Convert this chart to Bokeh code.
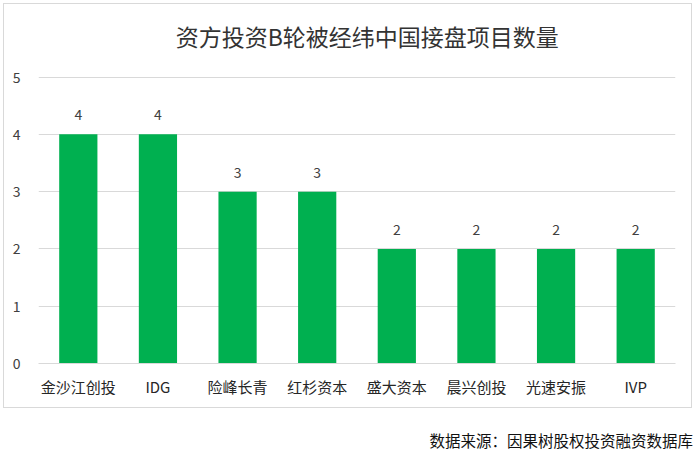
from bokeh.plotting import figure
from bokeh.layouts import column
from bokeh.models import ColumnDataSource, LabelSet, FixedTicker, Range1d
from bokeh.core.properties import value
from bokeh.embed import file_html
from bokeh.resources import INLINE

# data
investors = ["金沙江创投", "IDG", "险峰长青", "红杉资本", "盛大资本", "晨兴创投", "光速安振", "IVP"]
counts = [4, 4, 3, 3, 2, 2, 2, 2]
y_ticks = [0, 1, 2, 3, 4, 5]

title_text = "资方投资B轮被经纬中国接盘项目数量"
source_text = "数据来源：因果树股权投资融资数据库"

FONT = "Noto Sans CJK SC"
GREEN = "#00B050"


def text_strip(width, height, x, y, text, size, color):
    # a bare figure that only carries one line of text
    f = figure(width=width, height=height, x_range=(0, 1), y_range=(0, 1),
               output_backend="svg", toolbar_location=None, min_border=0,
               x_axis_location=None, y_axis_location=None)
    f.text(x=[x], y=[y], text=[text], text_align="left",
           text_baseline="middle", text_font=value(FONT),
           text_font_size=size, text_color=color)
    f.grid.visible = False
    f.outline_line_color = None
    return f


src = ColumnDataSource(data=dict(
    investor=investors,
    count=counts,
    label=[str(c) for c in counts],
))

head = text_strip(687, 60, 0.2154, 0.467, title_text, "23px", "#333333")

p = figure(x_range=investors, y_range=Range1d(0, 5.01), width=687, height=343,
           output_backend="svg", toolbar_location=None,
           min_border_left=34, min_border_right=16,
           min_border_top=12, min_border_bottom=44)

p.vbar(x="investor", top="count", width=0.48, source=src,
       color=GREEN, line_color=None)

p.add_layout(LabelSet(x="investor", y="count", text="label", source=src,
                      y_offset=14, text_align="center", text_baseline="bottom",
                      text_font=value(FONT), text_font_size="14px",
                      text_color="#404040"))

p.outline_line_color = None
p.xgrid.grid_line_color = None
p.ygrid.grid_line_color = "#d9d9d9"
p.ygrid.grid_line_width = 1

p.yaxis.ticker = FixedTicker(ticks=y_ticks)
p.yaxis.axis_line_color = None
p.yaxis.major_tick_line_color = None
p.yaxis.minor_tick_line_color = None
p.yaxis.major_label_standoff = 12
p.yaxis.major_label_text_font = FONT
p.yaxis.major_label_text_font_size = "14px"
p.yaxis.major_label_text_color = "#404040"

p.xaxis.axis_line_color = "#d9d9d9"
p.xaxis.major_tick_line_color = None
p.xaxis.major_label_standoff = 6
p.xaxis.major_label_text_font = FONT
p.xaxis.major_label_text_font_size = "15px"
p.xaxis.major_label_text_color = "#262626"

boxed = column(head, p, styles={"border": "1px solid #d9d9d9", "margin": "3px 0 0 3px"})

# data source note under the boxed chart
note = text_strip(694, 44, 0.618, 0.273, source_text, "15.5px", "#111111")

open("out.html", "w").write(file_html(column(boxed, note), INLINE))
